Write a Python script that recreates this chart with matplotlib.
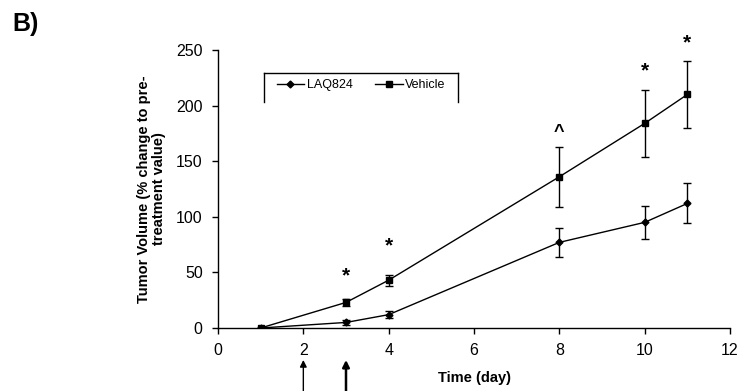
import matplotlib
matplotlib.use("Agg")
import matplotlib.pyplot as plt
from matplotlib.lines import Line2D

# Data
days = [1, 3, 4, 8, 10, 11]
laq824 = [0, 5, 12, 77, 95, 112]
laq824_err = [0, 2, 3, 13, 15, 18]
vehicle = [0, 23, 43, 136, 184, 210]
vehicle_err = [0, 3, 5, 27, 30, 30]

sig_days = [3, 4, 8, 10, 11]
sig_marks = ["*", "*", "^", "*", "*"]
sig_y = [47, 74, 176, 231, 256]

arrow_days = [2, 3]
arrow_widths = [1.0, 1.8]

xticks = [0, 2, 4, 6, 8, 10, 12]
yticks = [0, 50, 100, 150, 200, 250]

plt.rcParams['font.family'] = ['Liberation Sans', 'DejaVu Sans']

fig = plt.figure(figsize=(7.38, 3.91), dpi=100)
ax = fig.add_axes([218 / 738, (391 - 328) / 391, (730 - 218) / 738, (328 - 50) / 391])

ax.errorbar(days, laq824, yerr=laq824_err, color='black', lw=1.0, marker='D',
            markersize=3.5, capsize=3, elinewidth=1.0, capthick=1.0, label='LAQ824')
ax.errorbar(days, vehicle, yerr=vehicle_err, color='black', lw=1.0, marker='s',
            markersize=4, capsize=3, elinewidth=1.0, capthick=1.0, label='Vehicle')

for d, m, y in zip(sig_days, sig_marks, sig_y):
    if m == "*":
        ax.text(d, y, m, ha='center', va='center', fontsize=15, fontweight='bold',
                clip_on=False)
    else:
        ax.text(d, y, m, ha='center', va='center', fontsize=13, fontweight='bold',
                clip_on=False)

ax.set_xlim(0, 12)
ax.set_ylim(0, 250)
ax.set_xticks(xticks)
ax.set_yticks(yticks)
ax.tick_params(direction='out', length=4, width=1, labelsize=11.5, pad=7)
ax.spines['top'].set_visible(False)
ax.spines['right'].set_visible(False)
ax.spines['left'].set_linewidth(1)
ax.spines['bottom'].set_linewidth(1)

ax.set_xlabel('Time (day)', fontsize=10.5, fontweight='bold', labelpad=9)
ax.set_ylabel('Tumor Volume (% change to pre-\ntreatment value)', fontsize=10.5,
              fontweight='bold', labelpad=7, linespacing=1.1)

# arrows below axis
for d, w in zip(arrow_days, arrow_widths):
    ax.annotate('', xy=(d, -0.115), xycoords=('data', 'axes fraction'),
                xytext=(d, -0.25), textcoords=('data', 'axes fraction'),
                arrowprops=dict(arrowstyle='-|>', color='black', lw=w,
                                mutation_scale=10, shrinkA=0, shrinkB=0),
                annotation_clip=False)

# legend
handles = [Line2D([], [], color='black', lw=1, marker='D', markersize=3.5),
           Line2D([], [], color='black', lw=1, marker='s', markersize=4)]
leg = fig.legend(handles, ['LAQ824', 'Vehicle'], ncol=2, frameon=False,
                 loc='center', bbox_to_anchor=(361 / 738, 1 - 85 / 391),
                 fontsize=9, handlelength=2.2, columnspacing=1.8, handletextpad=0.2)

# legend frame: top, left, right only
x0, x1 = 264 / 738, 458 / 738
yt, yb = 1 - 72.5 / 391, 1 - 101.5 / 391
fig.add_artist(Line2D([x0, x1], [yt, yt], color='black', lw=1, transform=fig.transFigure))
fig.add_artist(Line2D([x0, x0], [yt, yb], color='black', lw=1, transform=fig.transFigure))
fig.add_artist(Line2D([x1, x1], [yt, yb], color='black', lw=1, transform=fig.transFigure))

fig.text(12 / 738, 1 - 24 / 391, 'B)', fontsize=18, fontweight='bold', va='center', ha='left')

fig.savefig('out.png', dpi=100)
